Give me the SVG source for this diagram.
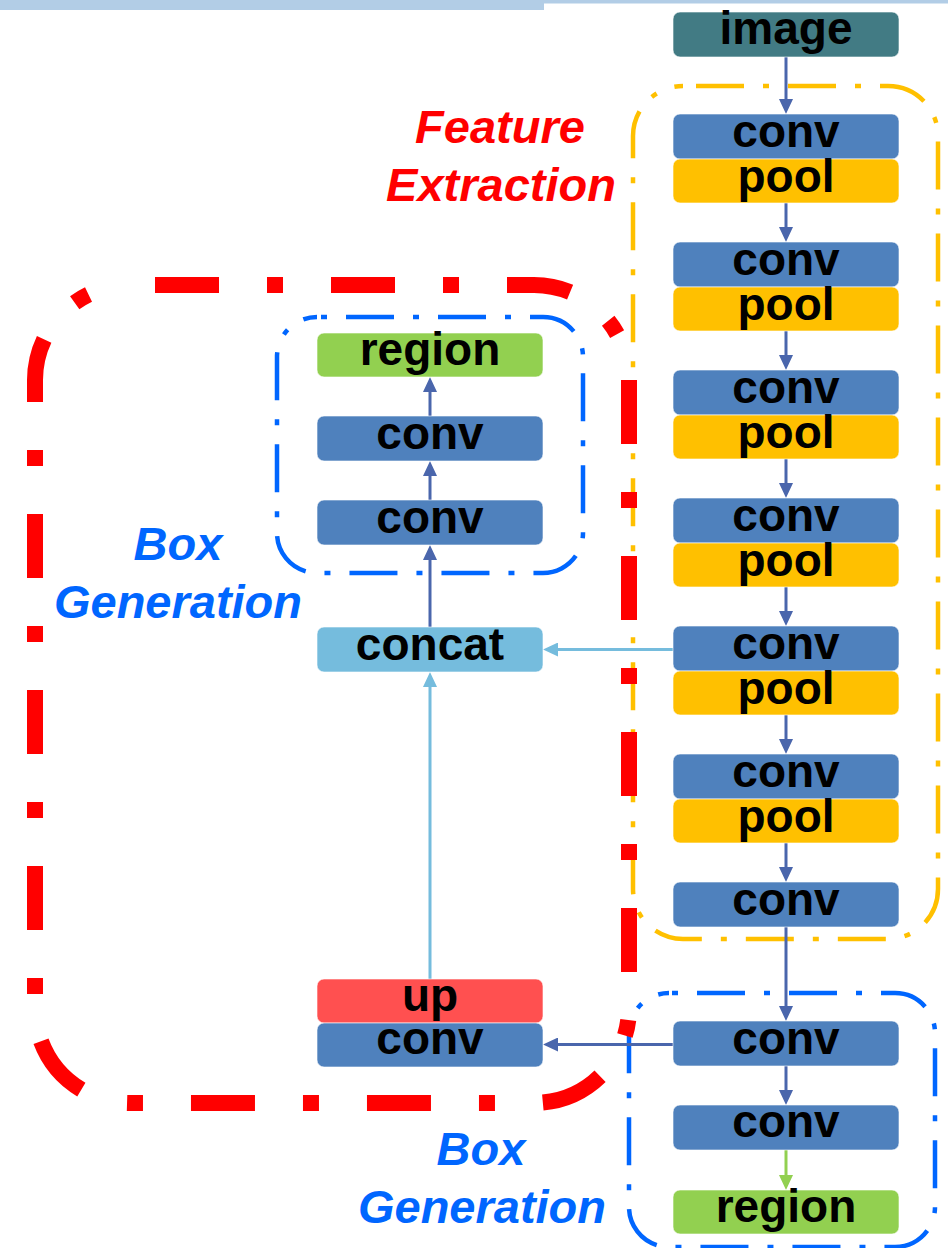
<svg xmlns="http://www.w3.org/2000/svg" width="948" height="1248" viewBox="0 0 948 1248">
  <defs>
    <style>
      .box { stroke: #FFFFFF; stroke-opacity: 0.6; stroke-width: 1; }
      .conv { fill: #4F81BD; }
      .pool { fill: #FFC000; }
      .image { fill: #427B84; }
      .region { fill: #92D050; }
      .concat { fill: #75BCDD; }
      .up { fill: #FF5050; }
      .lbl { font-family: "Liberation Sans", Arial, sans-serif; font-weight: bold; font-size: 46px; fill: #000000; text-anchor: middle; }
      .title { font-family: "Liberation Sans", Arial, sans-serif; font-weight: bold; font-style: italic; font-size: 47px; text-anchor: middle; }
      .fe { fill: #FF0000; }
      .bg { fill: #0066FF; }
      .edge { fill: none; stroke-width: 3; }
      .dark { stroke: #4A66AC; }
      .light { stroke: #75BCDD; }
      .green { stroke: #92D050; }
      .frame { fill: none; stroke-linecap: butt; }
    </style>
    <marker id="ah-dark" viewBox="0 0 15 14" refX="5" refY="7" markerWidth="15" markerHeight="14" markerUnits="userSpaceOnUse" orient="auto">
      <path d="M0,0 L15,7 L0,14 z" fill="#4A66AC"/>
    </marker>
    <marker id="ah-light" viewBox="0 0 15 14" refX="5" refY="7" markerWidth="15" markerHeight="14" markerUnits="userSpaceOnUse" orient="auto">
      <path d="M0,0 L15,7 L0,14 z" fill="#75BCDD"/>
    </marker>
    <marker id="ah-green" viewBox="0 0 15 14" refX="5" refY="7" markerWidth="15" markerHeight="14" markerUnits="userSpaceOnUse" orient="auto">
      <path d="M0,0 L15,7 L0,14 z" fill="#92D050"/>
    </marker>
  </defs>

  <!-- header band -->
  <rect x="0" y="0" width="544" height="10" fill="#B2CDE6"/>
  <rect x="544" y="0" width="404" height="3.5" fill="#B2CDE6"/>

  <!-- grouping frames -->
  <g id="frames">
    <rect id="feature-frame" class="frame" x="633" y="86" width="305" height="853" rx="50" ry="50" stroke="#FFC000" stroke-width="4.5" stroke-dasharray="48 19 6 19" stroke-dashoffset="79"/>
    <rect id="box-frame-upper" class="frame" x="277" y="317" width="306" height="256" rx="40" ry="40" stroke="#0066FF" stroke-width="4.5" stroke-dasharray="48 19 6 19" stroke-dashoffset="63"/>
    <rect id="box-frame-lower" class="frame" x="629" y="993" width="306" height="254" rx="40" ry="40" stroke="#0066FF" stroke-width="4.5" stroke-dasharray="48 19 6 19" stroke-dashoffset="64"/>
    <rect id="box-frame-outer" class="frame" x="35" y="285" width="594" height="818" rx="95" ry="95" stroke="#FF0000" stroke-width="16" stroke-dasharray="64 48 16 48" stroke-dashoffset="151"/>
  </g>

  <!-- connectors -->
  <g id="connectors">
    <line class="edge dark" x1="786" y1="57" x2="786" y2="104" marker-end="url(#ah-dark)"/>
    <line class="edge dark" x1="786" y1="203" x2="786" y2="232" marker-end="url(#ah-dark)"/>
    <line class="edge dark" x1="786" y1="331" x2="786" y2="360" marker-end="url(#ah-dark)"/>
    <line class="edge dark" x1="786" y1="459" x2="786" y2="488" marker-end="url(#ah-dark)"/>
    <line class="edge dark" x1="786" y1="587" x2="786" y2="616" marker-end="url(#ah-dark)"/>
    <line class="edge dark" x1="786" y1="715" x2="786" y2="744" marker-end="url(#ah-dark)"/>
    <line class="edge dark" x1="786" y1="843" x2="786" y2="872" marker-end="url(#ah-dark)"/>
    <line class="edge dark" x1="786" y1="927" x2="786" y2="1011" marker-end="url(#ah-dark)"/>
    <line class="edge dark" x1="786" y1="1066" x2="786" y2="1095" marker-end="url(#ah-dark)"/>
    <line class="edge green" x1="786" y1="1150" x2="786" y2="1180" marker-end="url(#ah-green)"/>
    <line class="edge light" x1="673" y1="649.5" x2="553" y2="649.5" marker-end="url(#ah-light)"/>
    <line class="edge dark" x1="673" y1="1044.5" x2="553" y2="1044.5" marker-end="url(#ah-dark)"/>
    <line class="edge light" x1="430" y1="979" x2="430" y2="682" marker-end="url(#ah-light)"/>
    <line class="edge dark" x1="430" y1="627" x2="430" y2="555" marker-end="url(#ah-dark)"/>
    <line class="edge dark" x1="430" y1="500" x2="430" y2="471" marker-end="url(#ah-dark)"/>
    <line class="edge dark" x1="430" y1="416" x2="430" y2="387" marker-end="url(#ah-dark)"/>
  </g>

  <!-- backbone column -->
  <g id="image"><rect class="box image" x="673" y="12" width="226" height="45" rx="7"/><text class="lbl" x="786" y="44">image</text></g>
  <g id="conv1"><rect class="box conv" x="673" y="114" width="226" height="45" rx="7"/><text class="lbl" x="786" y="147">conv</text></g>
  <g id="pool1"><rect class="box pool" x="673" y="159" width="226" height="44" rx="7"/><text class="lbl" x="786" y="192">pool</text></g>
  <g id="conv2"><rect class="box conv" x="673" y="242" width="226" height="45" rx="7"/><text class="lbl" x="786" y="275">conv</text></g>
  <g id="pool2"><rect class="box pool" x="673" y="287" width="226" height="44" rx="7"/><text class="lbl" x="786" y="320">pool</text></g>
  <g id="conv3"><rect class="box conv" x="673" y="370" width="226" height="45" rx="7"/><text class="lbl" x="786" y="403">conv</text></g>
  <g id="pool3"><rect class="box pool" x="673" y="415" width="226" height="44" rx="7"/><text class="lbl" x="786" y="448">pool</text></g>
  <g id="conv4"><rect class="box conv" x="673" y="498" width="226" height="45" rx="7"/><text class="lbl" x="786" y="531">conv</text></g>
  <g id="pool4"><rect class="box pool" x="673" y="543" width="226" height="44" rx="7"/><text class="lbl" x="786" y="576">pool</text></g>
  <g id="conv5"><rect class="box conv" x="673" y="626" width="226" height="45" rx="7"/><text class="lbl" x="786" y="659">conv</text></g>
  <g id="pool5"><rect class="box pool" x="673" y="671" width="226" height="44" rx="7"/><text class="lbl" x="786" y="704">pool</text></g>
  <g id="conv6"><rect class="box conv" x="673" y="754" width="226" height="45" rx="7"/><text class="lbl" x="786" y="787">conv</text></g>
  <g id="pool6"><rect class="box pool" x="673" y="799" width="226" height="44" rx="7"/><text class="lbl" x="786" y="832">pool</text></g>
  <g id="conv7"><rect class="box conv" x="673" y="882" width="226" height="45" rx="7"/><text class="lbl" x="786" y="915">conv</text></g>

  <!-- lower box generation branch -->
  <g id="conv8"><rect class="box conv" x="673" y="1021" width="226" height="45" rx="7"/><text class="lbl" x="786" y="1054">conv</text></g>
  <g id="conv9"><rect class="box conv" x="673" y="1105" width="226" height="45" rx="7"/><text class="lbl" x="786" y="1137">conv</text></g>
  <g id="region-lower"><rect class="box region" x="673" y="1190" width="226" height="44" rx="7"/><text class="lbl" x="786" y="1222">region</text></g>

  <!-- upper box generation branch -->
  <g id="region-upper"><rect class="box region" x="317" y="333" width="226" height="44" rx="7"/><text class="lbl" x="430" y="365">region</text></g>
  <g id="conv-b2"><rect class="box conv" x="317" y="416" width="226" height="45" rx="7"/><text class="lbl" x="430" y="449">conv</text></g>
  <g id="conv-b1"><rect class="box conv" x="317" y="500" width="226" height="45" rx="7"/><text class="lbl" x="430" y="533">conv</text></g>
  <g id="concat"><rect class="box concat" x="317" y="627" width="226" height="45" rx="7"/><text class="lbl" x="430" y="660">concat</text></g>
  <g id="up"><rect class="box up" x="317" y="979" width="226" height="44" rx="7"/><text class="lbl" x="430" y="1011">up</text></g>
  <g id="upconv"><rect class="box conv" x="317" y="1023" width="226" height="44" rx="7"/><text class="lbl" x="430" y="1054">conv</text></g>

  <!-- stage labels -->
  <g id="labels">
    <text class="title fe" x="500" y="143">Feature</text>
    <text class="title fe" x="501" y="201">Extraction</text>
    <text class="title bg" x="178" y="560">Box</text>
    <text class="title bg" x="178" y="618">Generation</text>
    <text class="title bg" x="481" y="1165">Box</text>
    <text class="title bg" x="482" y="1223">Generation</text>
  </g>
</svg>
